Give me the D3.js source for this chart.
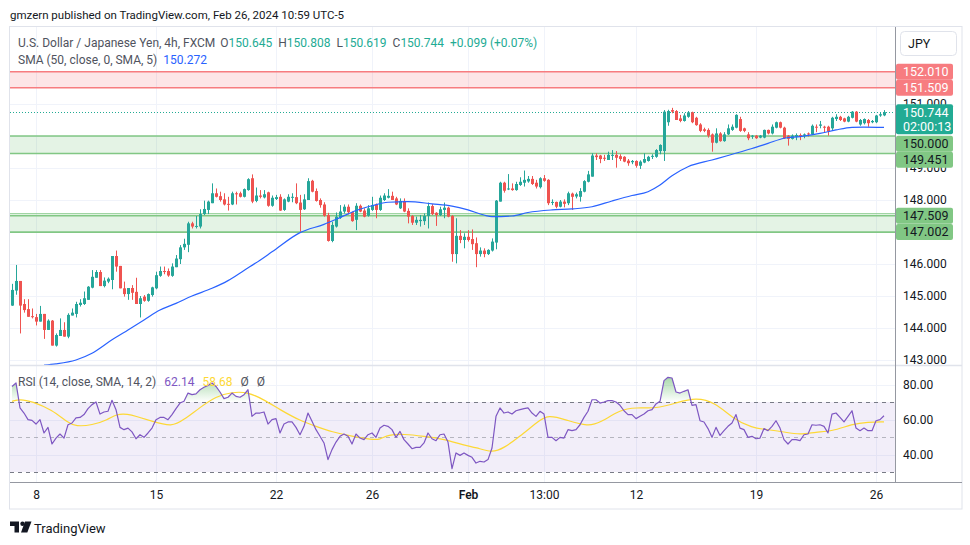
<!DOCTYPE html>
<html>
<head>
<meta charset="utf-8">
<script src="https://d3js.org/d3.v7.min.js"></script>
<style>
  html, body { margin: 0; padding: 0; background: #fff; }
  svg { display: block; font-family: Roboto, "Open Sans", sans-serif; }
</style>
</head>
<body>
<svg id="chart" width="970" height="545"></svg>
<script>
"use strict";

// ---- data (USDJPY 4h, FXCM) ----
const opens = [
  144.70,145.17,145.47,144.75,144.59,144.37,144.34,144.20,144.44,143.94,
  144.23,143.45,143.75,143.94,143.73,144.39,144.44,144.72,144.75,144.88,
  145.26,145.57,145.75,145.31,145.45,145.50,146.25,145.94,145.24,145.06,
  145.25,145.13,144.75,144.98,144.85,145.03,145.24,145.63,145.78,145.78,
  145.63,145.90,146.15,146.52,146.60,147.27,147.17,147.17,147.56,147.69,
  147.90,148.21,148.12,148.02,147.88,147.86,148.21,148.21,148.10,148.31,
  148.68,147.97,148.14,148.08,148.24,147.82,148.03,148.10,147.69,147.95,
  148.07,148.09,147.92,147.71,148.00,148.60,148.28,148.00,147.86,147.53,
  146.72,147.17,147.45,147.64,147.79,147.62,147.38,147.82,147.67,147.51,
  147.69,147.86,147.69,148.00,148.07,148.13,148.05,147.74,147.97,147.66,
  147.50,147.29,147.34,147.34,147.50,147.81,147.60,147.53,147.69,147.76,
  147.50,146.31,146.88,146.75,146.85,146.78,146.65,146.31,146.42,146.31,
  146.42,146.67,147.95,148.54,148.33,148.36,148.31,148.47,148.54,148.58,
  148.66,148.54,148.40,148.68,148.63,147.92,147.94,147.79,147.95,147.90,
  148.20,148.11,148.10,148.26,148.57,148.73,149.39,149.39,149.32,149.25,
  149.38,149.41,149.37,149.35,149.23,149.18,149.22,149.07,149.17,149.22,
  149.35,149.35,149.53,149.53,150.43,150.81,150.78,150.55,150.47,150.60,
  150.74,150.57,150.36,150.21,150.19,150.05,149.79,150.08,149.84,150.05,
  150.19,150.26,150.53,150.24,150.05,149.98,150.01,149.95,149.95,150.19,
  150.08,150.26,150.43,150.26,150.01,149.91,149.98,150.03,150.01,150.08,
  150.05,150.29,150.32,150.29,150.29,150.24,150.53,150.60,150.55,150.45,
  150.57,150.76,150.36,150.40,150.50,150.43,150.43,150.64,150.645
];
const highs = [
  145.38,145.97,145.47,144.90,144.90,144.61,144.44,144.69,144.44,144.27,
  144.25,143.83,144.30,144.18,144.46,144.61,144.82,144.90,145.14,145.31,
  145.81,145.81,145.81,145.58,145.58,146.25,146.42,145.94,145.45,145.25,
  145.34,145.57,145.00,145.03,145.08,145.29,145.76,145.92,145.92,145.86,
  146.02,146.28,146.59,146.79,147.32,147.32,147.50,147.71,147.98,147.98,
  148.52,148.36,148.26,148.21,148.10,148.26,148.26,148.26,148.36,148.68,
  148.80,148.39,148.31,148.31,148.26,148.14,148.16,148.18,148.05,148.18,
  148.21,148.52,148.16,148.18,148.68,148.63,148.36,148.05,147.93,147.60,
  147.32,147.61,147.84,147.86,147.86,147.64,147.90,147.86,147.74,147.84,
  148.10,147.89,148.14,148.21,148.34,148.26,148.10,148.05,148.05,147.74,
  147.53,147.48,147.53,147.58,147.92,147.87,147.62,147.79,147.92,147.79,
  147.53,147.43,147.06,146.96,147.06,147.08,146.83,146.52,146.49,146.46,
  146.80,148.00,148.57,148.57,148.81,148.52,148.57,148.71,148.92,148.75,
  148.75,148.63,148.71,148.78,148.65,148.02,147.95,148.00,148.02,148.26,
  148.23,148.23,148.37,148.62,148.91,149.46,149.46,149.41,149.41,149.51,
  149.56,149.53,149.43,149.37,149.28,149.25,149.24,149.24,149.46,149.38,
  149.43,149.59,149.74,150.81,150.82,150.88,150.81,150.66,150.71,150.78,
  150.76,150.60,150.40,150.26,150.24,150.08,150.24,150.12,150.12,150.36,
  150.36,150.68,150.60,150.26,150.12,150.03,150.03,150.03,150.20,150.20,
  150.36,150.45,150.45,150.29,150.03,150.05,150.08,150.08,150.08,150.11,
  150.36,150.36,150.47,150.32,150.32,150.60,150.68,150.63,150.57,150.63,
  150.78,150.78,150.53,150.55,150.53,150.50,150.66,150.74,150.808
];
const lows = [
  144.69,145.04,143.83,144.48,144.35,144.30,144.08,144.20,143.66,143.94,
  143.45,143.42,143.75,143.73,143.68,144.39,144.33,144.67,144.72,144.88,
  145.24,145.57,145.31,145.27,145.40,145.21,145.76,145.24,144.98,144.88,
  144.88,144.75,144.33,144.82,144.82,144.98,145.21,145.60,145.68,145.60,
  145.60,145.90,146.00,146.44,146.37,147.11,147.11,147.11,147.53,147.56,
  147.90,148.08,147.95,147.83,147.67,147.84,147.86,148.08,148.08,148.29,
  147.90,147.93,148.05,148.05,147.79,147.79,148.00,147.66,147.66,147.93,
  147.93,147.87,147.01,147.69,148.00,148.24,147.95,147.76,147.48,146.70,
  146.68,147.14,147.41,147.58,147.55,147.32,147.06,147.62,147.46,147.48,
  147.66,147.43,147.66,147.97,148.05,148.00,147.84,147.72,147.62,147.27,
  147.22,147.22,147.17,147.22,147.11,147.53,147.19,147.50,147.43,147.46,
  146.07,146.02,146.65,146.49,146.70,146.44,145.90,146.23,146.21,146.28,
  146.39,146.46,147.95,148.23,148.31,148.29,148.29,148.44,148.42,148.54,
  148.47,148.36,148.36,148.57,147.84,147.84,147.74,147.77,147.77,147.84,
  147.69,148.05,147.95,148.24,148.55,148.73,149.25,149.15,149.22,149.25,
  149.25,149.01,149.22,149.18,149.07,149.12,149.01,148.97,149.15,149.20,
  149.28,149.32,149.43,149.22,150.32,150.71,150.50,150.43,150.45,150.57,
  150.40,150.32,150.12,150.12,149.95,149.51,149.77,149.82,149.82,150.03,
  150.16,150.24,150.13,150.12,149.87,149.91,149.91,149.93,149.93,150.05,
  150.05,150.24,150.24,149.91,149.70,149.89,149.87,149.87,149.93,149.98,
  150.03,150.12,150.24,150.12,150.01,150.19,150.47,150.47,150.43,150.43,
  150.55,150.43,150.32,150.36,150.29,150.40,150.40,150.60,150.619
];
const closes = [
  145.19,145.47,144.70,144.56,144.35,144.34,144.20,144.44,143.94,144.23,
  143.45,143.78,143.94,143.73,144.41,144.48,144.75,144.79,144.93,145.29,
  145.60,145.75,145.31,145.48,145.54,146.25,145.92,145.24,145.06,145.25,
  145.10,144.75,144.93,144.85,145.06,145.27,145.65,145.78,145.75,145.64,
  145.92,146.17,146.52,146.63,147.27,147.17,147.19,147.56,147.72,147.95,
  148.21,148.10,148.00,147.86,147.85,148.21,148.19,148.10,148.34,148.65,
  147.95,148.14,148.10,148.18,147.82,148.07,148.09,147.67,148.02,148.10,
  148.10,147.90,147.69,148.02,148.59,148.26,147.97,147.84,147.51,146.72,
  147.22,147.48,147.64,147.79,147.62,147.34,147.82,147.64,147.48,147.74,
  147.84,147.69,148.07,148.14,148.13,148.00,147.86,147.97,147.64,147.48,
  147.29,147.38,147.38,147.50,147.81,147.56,147.53,147.71,147.76,147.48,
  146.31,146.88,146.75,146.85,146.75,146.62,146.31,146.42,146.31,146.44,
  146.70,147.98,148.54,148.29,148.36,148.31,148.50,148.57,148.63,148.66,
  148.50,148.42,148.68,148.60,147.90,147.94,147.79,147.95,147.88,148.21,
  148.10,148.18,148.28,148.59,148.80,149.39,149.34,149.28,149.30,149.41,
  149.41,149.32,149.28,149.20,149.15,149.22,149.07,149.20,149.28,149.35,
  149.38,149.56,149.72,150.76,150.78,150.76,150.50,150.47,150.64,150.74,
  150.43,150.34,150.16,150.16,150.01,149.79,150.08,149.84,150.05,150.24,
  150.29,150.66,150.16,150.16,149.93,150.01,149.93,150.01,150.19,150.08,
  150.29,150.43,150.26,149.93,149.91,150.01,150.03,149.98,150.05,150.05,
  150.32,150.26,150.36,150.26,150.14,150.57,150.60,150.50,150.45,150.60,
  150.76,150.45,150.50,150.53,150.40,150.47,150.64,150.68,150.744
];

// SMA(50) readings, candle index -> value
const smaIdx = [9,12,17,21,26,30,34,38,42,46,51,55,59,63,66,73,79,83,87,91,
  95,100,106,111,115,119,121,126,130,136,141,146,151,156,160,163,166,170,176,180,
  186,190,194,198,203,207,211,214,219];
const smaVals = [142.84,142.88,143.00,143.21,143.63,143.94,144.25,144.56,144.77,145.00,
  145.24,145.48,145.80,146.12,146.38,146.98,147.24,147.45,147.67,147.82,
  147.93,147.95,147.88,147.81,147.69,147.53,147.48,147.50,147.61,147.69,
  147.72,147.79,147.97,148.14,148.26,148.47,148.76,149.04,149.25,149.39,
  149.61,149.77,149.93,149.98,150.08,150.19,150.27,150.28,150.272];

// RSI(14), one value per candle
const rsiVals = [
  78.9,80.9,66.6,63.7,59.9,59.5,57.4,59.9,52.3,55.5,
  46.0,49.4,51.7,49.4,57.0,58.0,60.9,61.2,62.8,66.2,
  68.5,70.0,63.1,64.3,64.7,71.0,65.6,55.5,54.2,55.1,
  52.9,49.0,51.3,49.8,52.3,55.1,59.9,61.2,61.2,59.9,
  62.8,66.2,69.4,70.4,75.1,74.2,74.6,77.0,78.4,79.5,
  80.9,78.9,75.7,71.9,72.7,75.1,73.2,72.7,74.2,77.0,
  61.8,63.7,63.7,64.3,57.4,59.9,60.5,52.3,57.4,58.6,
  58.6,55.5,51.3,56.1,63.7,59.0,54.2,50.4,46.6,37.1,
  42.8,47.1,50.4,51.7,50.4,46.0,51.7,49.4,48.5,51.3,
  52.3,49.8,55.1,56.7,56.1,54.2,49.8,53.2,48.5,46.0,
  43.3,44.1,44.1,46.6,52.3,49.0,47.9,51.3,51.7,47.1,
  31.9,40.9,39.5,40.9,39.5,38.4,35.1,36.1,35.7,37.1,
  43.7,61.8,66.6,63.7,64.3,63.1,65.0,65.6,66.2,66.6,
  63.7,61.8,64.7,63.1,49.8,49.8,47.9,49.8,49.4,54.2,
  53.6,54.2,57.0,61.2,64.7,71.3,71.3,69.4,70.0,70.8,
  70.8,70.0,68.1,65.0,62.8,62.8,60.5,61.8,63.1,65.0,
  65.6,68.9,70.4,82.2,84.1,83.7,75.7,75.1,76.1,77.0,
  68.1,68.5,59.3,58.6,54.8,49.8,55.5,50.9,53.6,56.1,
  58.0,62.8,55.1,54.2,49.8,50.4,49.0,49.4,54.8,53.6,
  56.1,59.3,55.1,48.5,46.0,48.5,48.5,47.9,51.3,51.7,
  57.0,56.7,57.0,56.1,52.3,63.1,63.7,61.2,58.6,61.8,
  65.0,55.1,53.6,55.1,53.6,53.6,59.3,59.9,62.14
];
// RSI-based SMA(14) readings
const rsiSmaIdx = [1,3,6,11,15,17,21,25,27,30,32,36,41,44,48,52,56,60,64,68,
  73,77,81,86,91,93,95,99,104,109,114,117,121,124,128,132,135,140,145,148,
  153,157,162,167,172,177,181,186,190,194,198,202,206,211,215,219];
const rsiSmaVals = [70.4,71.7,70.4,65.6,58.0,56.1,56.7,59.9,63.1,63.1,
  61.8,59.0,55.7,59.9,66.9,73.2,75.7,75.7,71.3,65.6,
  59.3,56.1,52.9,50.4,48.5,48.5,51.3,51.7,50.4,48.9,
  45.2,44.1,40.9,43.7,50.4,58.0,63.1,59.3,56.1,58.0,
  65.6,66.9,66.2,69.4,72.7,69.4,60.9,55.1,54.2,52.9,
  51.3,52.9,53.2,57.4,58.6,58.68];

// drawn zones
const zoneTops = [152.010, 150.000, 147.509];
const zoneBottoms = [151.509, 149.451, 147.002];
const zoneKinds = ["resistance", "support", "support"];
const extraLevels = [147.57, 146.985];

const priceTicks = [143, 144, 145, 146, 147, 148, 149, 150, 151];
const rsiTicks = [80, 60, 40];
const timeTickIdx = [7, 37, 67, 91, 115, 134, 157, 187, 217];
const timeTickLabels = ["8", "15", "22", "26", "Feb", "13:00", "12", "19", "26"];

const countdown = "02:00:13";

// ---- layout ----
const W = 970, H = 545;
const plotL = 10, plotR = 895, frameR = 962;
const mainTop = 27, mainBot = 365, rsiTop = 366, rsiBot = 482, frameBot = 509;

const UP = "#26a69a", DOWN = "#ef5350";
const GRID = "#f0f3fa", TEXT = "#131722";
const f3 = d3.format(".3f"), f2 = d3.format(".2f");

const svg = d3.select("#chart");
const defs = svg.append("defs");

defs.append("clipPath").attr("id", "clipMain")
  .append("rect").attr("x", plotL).attr("y", mainTop).attr("width", plotR - plotL).attr("height", mainBot - mainTop);
defs.append("clipPath").attr("id", "clipRsi")
  .append("rect").attr("x", plotL).attr("y", rsiTop).attr("width", plotR - plotL).attr("height", rsiBot - rsiTop);

const x = d3.scaleLinear().domain([1, closes.length]).range([12, 884]);
const y = d3.scaleLinear().domain([143, 151]).range([360, 104]);
const yR = d3.scaleLinear().domain([30, 70]).range([472, 402]);

const obGrad = defs.append("linearGradient").attr("id", "obGrad")
  .attr("gradientUnits", "userSpaceOnUse")
  .attr("x1", 0).attr("x2", 0).attr("y1", yR(86)).attr("y2", yR(70));
obGrad.append("stop").attr("offset", 0).attr("stop-color", "#4caf50").attr("stop-opacity", 0.55);
obGrad.append("stop").attr("offset", 1).attr("stop-color", "#4caf50").attr("stop-opacity", 0);

const px = v => Math.round(v) + 0.5;

// frame
svg.append("rect").attr("width", W).attr("height", H).attr("fill", "#fff");
svg.append("rect")
  .attr("x", 9.5).attr("y", mainTop - 0.5)
  .attr("width", frameR - 9.5).attr("height", frameBot - mainTop + 0.5)
  .attr("fill", "#fff").attr("stroke", "#e0e3eb");

// grid
const grid = svg.append("g");
grid.selectAll(".hg").data(priceTicks).join("line")
  .attr("x1", plotL).attr("x2", plotR)
  .attr("y1", d => px(y(d))).attr("y2", d => px(y(d)))
  .attr("stroke", GRID);
grid.selectAll(".rg").data(rsiTicks).join("line")
  .attr("x1", plotL).attr("x2", plotR)
  .attr("y1", d => px(yR(d))).attr("y2", d => px(yR(d)))
  .attr("stroke", GRID);
grid.selectAll(".vg").data(timeTickIdx).join("line")
  .attr("x1", d => px(x(d))).attr("x2", d => px(x(d)))
  .attr("y1", mainTop).attr("y2", rsiBot)
  .attr("stroke", GRID);

// zones
const main = svg.append("g").attr("clip-path", "url(#clipMain)");
const zoneColor = k => k === "resistance" ? "#f77c80" : "#81c784";
const zoneFill = k => k === "resistance" ? "rgba(242,54,69,0.13)" : "rgba(76,175,80,0.15)";
zoneTops.forEach((top, i) => {
  main.append("rect")
    .attr("x", plotL).attr("width", plotR - plotL)
    .attr("y", y(top)).attr("height", y(zoneBottoms[i]) - y(top))
    .attr("fill", zoneFill(zoneKinds[i]));
  [top, zoneBottoms[i]].forEach(v => {
    main.append("line")
      .attr("x1", plotL).attr("x2", plotR)
      .attr("y1", y(v)).attr("y2", y(v))
      .attr("stroke", zoneColor(zoneKinds[i])).attr("stroke-width", 1.4);
  });
});
extraLevels.forEach(v => {
  main.append("line")
    .attr("x1", plotL).attr("x2", plotR)
    .attr("y1", y(v)).attr("y2", y(v))
    .attr("stroke", "#81c784").attr("stroke-width", 1.2);
});

// last price dotted line
const lastIdx = closes.length - 1;
const lastClose = closes[lastIdx];
main.append("line")
  .attr("x1", plotL).attr("x2", plotR)
  .attr("y1", px(y(lastClose))).attr("y2", px(y(lastClose)))
  .attr("stroke", "#22ab94").attr("stroke-dasharray", "1,2");

// candles
const candles = closes.map((c, i) => ({ i: i + 1, o: opens[i], h: highs[i], l: lows[i], c: c }));
const cg = main.append("g");
cg.selectAll("line.wick").data(candles).join("line")
  .attr("class", "wick")
  .attr("x1", d => px(x(d.i))).attr("x2", d => px(x(d.i)))
  .attr("y1", d => y(d.h)).attr("y2", d => y(d.l))
  .attr("stroke", d => d.c >= d.o ? UP : DOWN);
cg.selectAll("rect.body").data(candles).join("rect")
  .attr("class", "body")
  .attr("x", d => Math.round(x(d.i)) - 1)
  .attr("width", 3)
  .attr("y", d => y(Math.max(d.o, d.c)))
  .attr("height", d => Math.max(1, Math.abs(y(d.o) - y(d.c))))
  .attr("fill", d => d.c >= d.o ? UP : DOWN);

// SMA
const smaPts = smaIdx.map((d, i) => [d, smaVals[i]]);
main.append("path").datum(smaPts)
  .attr("fill", "none").attr("stroke", "#2962ff").attr("stroke-width", 1.2)
  .attr("d", d3.line().x(d => x(d[0])).y(d => y(d[1])).curve(d3.curveMonotoneX));

// RSI pane
const rsi = svg.append("g").attr("clip-path", "url(#clipRsi)");
rsi.append("rect")
  .attr("x", plotL).attr("width", plotR - plotL)
  .attr("y", yR(70)).attr("height", yR(30) - yR(70))
  .attr("fill", "rgba(126,87,194,0.1)");
[[70, "#787b86", 1], [50, "#787b86", 0.5], [30, "#787b86", 1]].forEach(([lv, col, op]) => {
  rsi.append("line")
    .attr("x1", plotL).attr("x2", plotR)
    .attr("y1", px(yR(lv))).attr("y2", px(yR(lv)))
    .attr("stroke", col).attr("stroke-opacity", op)
    .attr("stroke-dasharray", "4,4");
});
const rsiPts = rsiVals.map((v, i) => [i + 1, v]);
rsi.append("path").datum(rsiPts)
  .attr("fill", "url(#obGrad)")
  .attr("d", d3.area().x(d => x(d[0])).y0(yR(70)).y1(d => yR(Math.max(70, d[1]))));
const rsiSmaPts = rsiSmaIdx.map((d, i) => [d, rsiSmaVals[i]]);
rsi.append("path").datum(rsiSmaPts)
  .attr("fill", "none").attr("stroke", "#fdd835").attr("stroke-width", 1.2)
  .attr("d", d3.line().x(d => x(d[0])).y(d => yR(d[1])).curve(d3.curveBasis));
rsi.append("path").datum(rsiPts)
  .attr("fill", "none").attr("stroke", "#7e57c2").attr("stroke-width", 1.2)
  .attr("stroke-linejoin", "round")
  .attr("d", d3.line().x(d => x(d[0])).y(d => yR(d[1])));

// separators & axis lines
svg.append("line").attr("x1", plotL).attr("x2", frameR).attr("y1", mainBot + 0.5).attr("y2", mainBot + 0.5)
  .attr("stroke", "#e0e3eb").attr("stroke-width", 1.5);
svg.append("line").attr("x1", plotL).attr("x2", frameR).attr("y1", rsiBot + 0.5).attr("y2", rsiBot + 0.5)
  .attr("stroke", "#9598a1");
svg.append("line").attr("x1", plotR + 0.5).attr("x2", plotR + 0.5).attr("y1", mainTop).attr("y2", rsiBot)
  .attr("stroke", "#9598a1");

// price labels on the axis (stacked to avoid overlap)
const labels = [];
zoneTops.forEach((v, i) => {
  labels.push({ v: v, kind: zoneKinds[i] });
  labels.push({ v: zoneBottoms[i], kind: zoneKinds[i] });
});
labels.push({ v: lastClose, kind: "last" });
labels.sort((a, b) => b.v - a.v);
let prevBottom = -Infinity;
labels.forEach(l => {
  l.h = l.kind === "last" ? 30 : 16;
  l.top = Math.max(y(l.v) - 8, prevBottom);
  prevBottom = l.top + l.h + (l.kind === "last" ? 1.5 : 0);
});

// a tick label that sits wholly behind the price labels is not drawn
const covered = v => labels.some(l => v >= l.top - 1.5 && v <= l.top + l.h + 1.5);
const hidden = d => covered(y(d) - 4) && covered(y(d) + 4);

// axes
const priceAxis = svg.append("g").attr("transform", `translate(${plotR},0)`)
  .call(d3.axisRight(y).tickValues(priceTicks.filter(d => !hidden(d))).tickFormat(f3).tickSize(0).tickPadding(8));
const rsiAxis = svg.append("g").attr("transform", `translate(${plotR},0)`)
  .call(d3.axisRight(yR).tickValues(rsiTicks).tickFormat(f2).tickSize(0).tickPadding(8));
const timeAxis = svg.append("g").attr("transform", `translate(0,${rsiBot})`)
  .call(d3.axisBottom(x).tickValues(timeTickIdx).tickFormat((d, i) => timeTickLabels[i]).tickSize(0).tickPadding(8));
[priceAxis, rsiAxis, timeAxis].forEach(a => {
  a.select(".domain").remove();
  a.selectAll("text").attr("fill", TEXT).attr("font-size", 12)
    .attr("font-family", "Roboto, 'Open Sans', sans-serif");
});
timeAxis.selectAll("text").attr("font-weight", (d, i) => timeTickLabels[i] === "Feb" ? 600 : 400);

const lg = svg.append("g");
labels.forEach(l => {
  const bg = l.kind === "resistance" ? "#f77c80" : l.kind === "support" ? "#81c784" : "#22ab94";
  const fg = l.kind === "support" ? TEXT : "#fff";
  lg.append("rect").attr("x", plotR + 1).attr("y", l.top).attr("width", 57).attr("height", l.h)
    .attr("rx", 2).attr("fill", bg);
  lg.append("text").attr("x", 903).attr("y", l.top + 8).attr("dy", "0.35em")
    .attr("font-size", 12.5).attr("fill", fg).text(f3(l.v));
  if (l.kind === "last") {
    lg.append("text").attr("x", 903).attr("y", l.top + 22).attr("dy", "0.35em")
      .attr("font-size", 12.5).attr("fill", fg).text(countdown);
  }
});

// currency button
svg.append("rect").attr("x", 900.5).attr("y", 31.5).attr("width", 56).attr("height", 24)
  .attr("rx", 4).attr("fill", "#fff").attr("stroke", "#e0e3eb");
svg.append("text").attr("x", 908).attr("y", 44).attr("dy", "0.35em")
  .attr("font-size", 12.5).attr("fill", TEXT).text("JPY");

// header
svg.append("text").attr("x", 10).attr("y", 18.5)
  .attr("font-size", 11.5).attr("fill", TEXT)
  .text("gmzern published on TradingView.com, Feb 26, 2024 10:59 UTC-5");

// legend: instrument + OHLC
const GREY = "#50535e", TEAL = "#22ab94";
const lastOpen = opens[lastIdx];
const chg = lastClose - lastOpen;
const l1 = svg.append("text").attr("x", 18).attr("y", 46.5).attr("font-size", 12).attr("fill", GREY);
l1.append("tspan").text("U.S. Dollar / Japanese Yen, 4h, FXCM");
[["O", lastOpen], ["H", highs[lastIdx]], ["L", lows[lastIdx]], ["C", lastClose]].forEach(([k, v], i) => {
  l1.append("tspan").attr("dx", i === 0 ? 5 : 6).text(k);
  l1.append("tspan").attr("fill", TEAL).text(f3(v));
});
l1.append("tspan").attr("dx", 6).attr("fill", TEAL)
  .text(`+${f3(chg)} (+${f2(chg / lastOpen * 100)}%)`);

const l2 = svg.append("text").attr("x", 18).attr("y", 63.5).attr("font-size", 12).attr("fill", GREY);
l2.append("tspan").text("SMA (50, close, 0, SMA, 5)");
l2.append("tspan").attr("dx", 6).attr("fill", "#2962ff").text(f3(smaVals[smaVals.length - 1]));

// legend: RSI
const l3 = svg.append("text").attr("x", 18).attr("y", 385.5).attr("font-size", 12).attr("fill", GREY);
l3.append("tspan").text("RSI (14, close, SMA, 14, 2)");
l3.append("tspan").attr("dx", 8).attr("fill", "#7e57c2").text(f2(rsiVals[lastIdx]));
l3.append("tspan").attr("dx", 8).attr("fill", "#fdd835").text(f2(rsiSmaVals[rsiSmaVals.length - 1]));
l3.append("tspan").attr("dx", 8).text("\u00d8");
l3.append("tspan").attr("dx", 8).text("\u00d8");

// footer logo
const logo = svg.append("g").attr("fill", TEXT);
logo.append("path").attr("d", "M10 521.5 h9 v11 h-4.5 v-6.5 h-4.5 z");
logo.append("circle").attr("cx", 22.5).attr("cy", 523.8).attr("r", 2.2);
logo.append("path").attr("d", "M25 521.5 h6.5 l-4.2 11 h-6.3 z");
svg.append("text").attr("x", 34).attr("y", 532.5).attr("font-size", 13).attr("fill", TEXT).text("TradingView");
</script>
</body>
</html>
